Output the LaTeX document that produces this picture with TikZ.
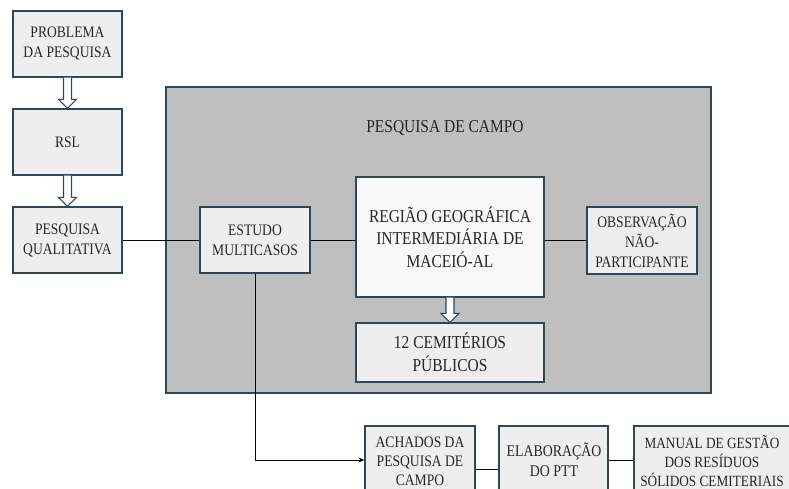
\documentclass[tikz,border=0pt]{standalone}
\usepackage{fontspec}
\setmainfont{Liberation Serif}[FakeStretch=0.85]
\usetikzlibrary{arrows.meta,calc}
\definecolor{bordc}{RGB}{50,70,84}
\definecolor{boxfill}{RGB}{238,238,238}
\definecolor{bigfill}{RGB}{191,191,191}
\definecolor{txtc}{RGB}{38,38,38}
\tikzset{
  box/.style={draw=bordc, line width=1.3pt, fill=boxfill, text=txtc, align=center, inner sep=1pt,
    font=\fontsize{16}{20}\selectfont},
  bigbox/.style={box, font=\fontsize{18.2}{22.5}\selectfont},
  plainbox/.style={draw=bordc, line width=1.3pt, fill=boxfill, inner sep=0pt},
  lbl/.style={text=txtc, align=center, inner sep=0pt},
  conn/.style={draw=black, line width=1pt},
  hollow/.style={draw=bordc, line width=1.1pt, fill=white, line join=miter},
}
\newcommand{\harrow}[2]{%
  \draw[hollow] let \p1=(#1.south), \p2=(#2.north) in
    (\x1-4pt,\y1) -- (\x1-4pt,\y2+9pt) -- (\x1-9pt,\y2+9pt) -- (\x1,\y2)
    -- (\x1+9pt,\y2+9pt) -- (\x1+4pt,\y2+9pt) -- (\x1+4pt,\y1);}
\begin{document}
\begin{tikzpicture}[x=1pt,y=-1pt]
\useasboundingbox (0,0) rectangle (789,489);
\clip (0,0) rectangle (789,489);
\fill[white] (0,0) rectangle (789,489);

% left column
\node[box, minimum width=109pt, minimum height=66pt] (prob) at (67.5,44) {PROBLEMA\\DA PESQUISA};
\node[box, minimum width=109pt, minimum height=66pt] (rsl) at (67.5,142) {RSL};
\node[box, minimum width=109pt, minimum height=66pt] (pq) at (67.5,240) {PESQUISA\\QUALITATIVA};
\harrow{prob}{rsl}
\harrow{rsl}{pq}

% field research area
\node[draw=bordc, line width=1.3pt, fill=bigfill, minimum width=545pt, minimum height=306pt, inner sep=0pt] (campo) at (438.5,240) {};
\node[lbl, font=\fontsize{18.2}{22}\selectfont] (campot) at (445,128) {PESQUISA DE CAMPO};

\node[box, minimum width=110pt, minimum height=66pt] (estudo) at (255,240) {ESTUDO\\MULTICASOS};
\node[bigbox, minimum width=188pt, minimum height=120pt, fill=white!60!boxfill] (regiao) at (450,237) {REGIÃO GEOGRÁFICA\\INTERMEDIÁRIA DE\\MACEIÓ-AL};
\node[bigbox, minimum width=188pt, minimum height=59pt] (cem) at (450,352.5) {12 CEMITÉRIOS\\PÚBLICOS};
\node[box, minimum width=110pt, minimum height=67pt] (obs) at (642,240.5) {OBSERVAÇÃO\\NÃO-\\PARTICIPANTE};
\harrow{regiao}{cem}

% connectors
\draw[conn] (pq.east) -- (pq.east -| estudo.west);
\draw[conn] (estudo.east) -- (estudo.east -| regiao.west);
\draw[conn] (regiao.east |- obs.west) -- (obs.west);

% bottom row (boxes run past the lower edge)
\node[plainbox, minimum width=110pt, minimum height=68pt] (achados) at (420,460) {};
\node[plainbox, minimum width=109pt, minimum height=68pt] (elab) at (553.5,460) {};
\node[plainbox, minimum width=200pt, minimum height=68pt] (manual) at (734,460) {};
\node[lbl, font=\fontsize{16}{19}\selectfont] (achadost) at (420,461) {ACHADOS DA\\PESQUISA DE\\CAMPO};
\node[lbl, font=\fontsize{16.3}{20}\selectfont] (elabt) at (554,460) {ELABORAÇÃO\\DO PTT};
\node[lbl, font=\fontsize{15.6}{19}\selectfont] (manualt) at (712,461) {MANUAL DE GESTÃO\\DOS RESÍDUOS\\SÓLIDOS CEMITERIAIS};

\draw[conn] ([yshift=-9pt]achados.east) -- ([yshift=-9pt]elab.west);
\draw[conn] (elab.east) -- (manual.west);
\draw[conn, -{Stealth[length=6pt,width=5pt]}] (estudo.south) |- (achados.west);
\end{tikzpicture}
\end{document}
